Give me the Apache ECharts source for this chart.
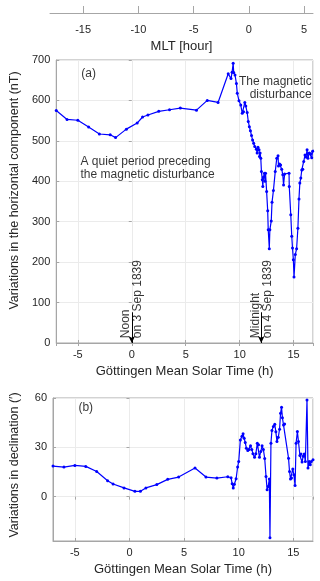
<!DOCTYPE html>
<html>
<head>
<meta charset="utf-8">
<script src="https://cdn.jsdelivr.net/npm/echarts@6/dist/echarts.min.js"></script>
<style>
  html, body { margin: 0; padding: 0; background: #fff; }
  #chart { width: 320px; height: 581px; }
</style>
</head>
<body>
<div id="chart"></div>
<script>
// Göttingen mean solar time (h), horizontal component variation (nT)
const horizontal = [
  [-7, 575], [-6, 553], [-5, 551], [-4, 534], [-3, 517], [-2, 515], [-1.5, 508], [-0.5, 529],
  [0.5, 544], [1, 559], [1.5, 564], [2.5, 573], [3.5, 577], [4.5, 581], [6, 576], [7, 600],
  [8, 595], [8.94, 666], [9.2, 654], [9.3, 670], [9.4, 692], [9.45, 669], [9.57, 663], [9.7, 642],
  [9.78, 618], [9.94, 599], [10.1, 589], [10.24, 568], [10.36, 572], [10.48, 595], [10.57, 586],
  [10.7, 570], [10.8, 548], [10.9, 535], [11.0, 525], [11.1, 513], [11.2, 502], [11.3, 494],
  [11.4, 486], [11.55, 479], [11.62, 470], [11.7, 484], [11.8, 478], [11.84, 461], [11.9, 470],
  [11.96, 457], [12.02, 424], [12.1, 404], [12.15, 387], [12.2, 410], [12.3, 420], [12.35, 400],
  [12.4, 420], [12.5, 375], [12.6, 327], [12.65, 280], [12.75, 233], [12.8, 280], [12.93, 302],
  [13.0, 348], [13.13, 377], [13.3, 424], [13.44, 457], [13.56, 463], [13.6, 438], [13.7, 443],
  [13.8, 440], [13.9, 430], [14.0, 416], [14.07, 391], [14.17, 418], [14.58, 420], [14.6, 387],
  [14.74, 317], [14.83, 264], [14.9, 235], [14.98, 206], [15.04, 163], [15.16, 219], [15.28, 233],
  [15.4, 284], [15.5, 356], [15.58, 396], [15.67, 408], [15.76, 428], [15.85, 430], [15.94, 449],
  [16.06, 465], [16.15, 460], [16.25, 478], [16.33, 457], [16.45, 470], [16.6, 468], [16.68, 458],
  [16.76, 474], [16.85, 478]
];

// Göttingen mean solar time (h), declination variation (')
const declination = [
  [-7, 18.6], [-6, 18.0], [-5, 19.0], [-4, 18.4], [-3, 15.3], [-2, 9.7], [-1.5, 7.7], [-0.5, 5.3],
  [0.5, 3.2], [1, 3.2], [1.5, 5.3], [2.5, 7.3], [3.5, 10.5], [4.5, 11.9], [6, 17.4], [7, 11.9],
  [8, 11.3], [9, 12.1], [9.3, 11.5], [9.4, 7.9], [9.5, 5.3], [9.6, 7.5], [9.76, 10.9], [9.9, 18],
  [10.0, 21.4], [10.15, 34.5], [10.3, 36.7], [10.4, 38.2], [10.5, 35.5], [10.6, 32.9], [10.7, 29.5],
  [10.83, 28.1], [10.95, 28.6], [11.08, 30.9], [11.2, 28.6], [11.3, 26.1], [11.45, 24],
  [11.57, 26.1], [11.7, 32.5], [11.82, 31.5], [11.9, 24], [12.02, 27.5], [12.14, 30.9],
  [12.26, 28.6], [12.38, 23.2], [12.5, 12.3], [12.6, 4.2], [12.7, 6.2], [12.8, 10.7], [12.86, -25],
  [12.95, 32.5], [13.04, 40.2], [13.17, 42.6], [13.3, 44], [13.4, 39.4], [13.5, 33.5],
  [13.62, 36.1], [13.74, 41], [13.83, 50.7], [13.92, 54.4], [14.0, 48], [14.1, 43.6], [14.2, 44.2],
  [14.56, 23.4], [14.65, 15.3], [14.74, 10.7], [14.83, 11.3], [14.95, 16.8], [15.05, 13.3],
  [15.16, 6.7], [15.25, 32.5], [15.37, 39.6], [15.47, 33.5], [15.6, 25], [15.7, 26], [15.8, 21],
  [15.9, 24.6], [16.0, 26], [16.1, 21.4], [16.25, 58.8], [16.34, 17.4], [16.45, 21.4],
  [16.55, 19.4], [16.65, 21.4], [16.8, 22.4]
];

// text notes placed in data coordinates of panel (a) and (b)
const notesA = [
  { value: [-4, 665], text: '(a)', align: 'center' },
  { value: [-4.75, 433], text: 'A quiet period preceding\nthe magnetic disturbance', align: 'left' },
  { value: [16.68, 631], text: 'The magnetic\ndisturbance', align: 'right' }
];
const notesB = [
  { value: [-4, 53.9], text: '(b)', align: 'center' }
];
// dates marked with arrows: time (h), label
const dateMarks = [
  { time: 0, text: 'Noon\non 3 Sep 1839' },
  { time: 12, text: 'Midnight\non 4 Sep 1839' }
];

const font = 'Liberation Sans, Arial, Helvetica, sans-serif';
const axisGray = '#a6a6a6';
const gridGray = '#ebebeb';
const textGray = '#262626';
const blue = '#0000ff';

const chart = echarts.init(document.getElementById('chart'));

function timeAxis(gridIndex, name) {
  return {
    type: 'value', gridIndex: gridIndex, min: -7, max: 16.8, splitNumber: 5,
    name: name, nameLocation: 'middle', nameGap: 22,
    nameTextStyle: { fontSize: 13, color: textGray, fontFamily: font },
    axisLine: { onZero: false, lineStyle: { color: axisGray } },
    axisTick: { inside: true, length: 3, lineStyle: { color: axisGray } },
    axisLabel: { showMinLabel: false, showMaxLabel: false, margin: 6, fontSize: 11, color: textGray, fontFamily: font },
    splitLine: { show: true, lineStyle: { color: gridGray } }
  };
}
function mirrorX(gridIndex) {
  return {
    type: 'value', gridIndex: gridIndex, min: -7, max: 16.8, splitNumber: 5, position: 'top',
    axisLine: { show: false }, axisLabel: { show: false }, splitLine: { show: false },
    axisTick: { inside: true, length: 3, lineStyle: { color: axisGray } }
  };
}
function valueAxis(gridIndex, min, max, interval, name, shift) {
  return {
    type: 'value', gridIndex: gridIndex, min: min, max: max, interval: interval, splitNumber: 3,
    name: name, nameLocation: 'middle', nameGap: 32,
    nameTextStyle: { fontSize: 12.5, color: textGray, fontFamily: font, padding: [0, 0, 0, shift] },
    axisLine: { show: true, onZero: false, lineStyle: { color: axisGray } },
    axisTick: { show: true, inside: true, length: 3, lineStyle: { color: axisGray } },
    axisLabel: { showMinLabel: interval != null, margin: 6, fontSize: 11, color: textGray, fontFamily: font },
    splitLine: { show: true, lineStyle: { color: gridGray } }
  };
}
function mirrorY(gridIndex, min, max, interval) {
  return {
    type: 'value', gridIndex: gridIndex, min: min, max: max, interval: interval, splitNumber: 3,
    position: 'right',
    axisLine: { show: false }, axisLabel: { show: false }, splitLine: { show: false },
    axisTick: { show: true, inside: true, length: 3, lineStyle: { color: axisGray } }
  };
}
function noteSeries(xIdx, yIdx, notes) {
  return {
    type: 'scatter', xAxisIndex: xIdx, yAxisIndex: yIdx, symbolSize: 0, silent: true,
    data: notes.map(n => ({
      value: n.value,
      label: {
        show: true, position: 'inside', formatter: n.text, align: n.align, verticalAlign: 'middle',
        fontSize: 12, lineHeight: 13, color: '#000', fontFamily: font
      }
    }))
  };
}

const option = {
  animation: false,
  backgroundColor: '#fff',
  grid: [
    { left: 50, right: 7, top: 60, height: 283, show: true, borderColor: axisGray, borderWidth: 1 },
    { left: 50, right: 7, top: 398, height: 143, show: true, borderColor: axisGray, borderWidth: 1 },
    { left: 50, right: 7, top: 12, height: 1 }
  ],
  xAxis: [
    timeAxis(0, 'Göttingen Mean Solar Time (h)'),
    timeAxis(1, 'Göttingen Mean Solar Time (h)'),
    {
      type: 'value', gridIndex: 2, min: -18, max: 5.8, splitNumber: 5,
      name: 'MLT [hour]', nameLocation: 'middle', nameGap: 27,
      nameTextStyle: { fontSize: 13, color: textGray, fontFamily: font },
      axisLine: { onZero: false, lineStyle: { color: axisGray } },
      axisTick: { inside: true, length: 7, lineStyle: { color: axisGray } },
      axisLabel: { showMinLabel: false, showMaxLabel: false, margin: 11, fontSize: 11, color: textGray, fontFamily: font },
      splitLine: { show: false }
    },
    mirrorX(0),
    mirrorX(1)
  ],
  yAxis: [
    valueAxis(0, 0, 700, 100, 'Variations in the horizontal component (nT)', 22),
    valueAxis(1, -27, 60, null, 'Variations in declination (′)', 9),
    { type: 'value', gridIndex: 2, show: false, min: 0, max: 1 },
    mirrorY(0, 0, 700, 100),
    mirrorY(1, -27, 60, null)
  ],
  series: [
    {
      type: 'line', xAxisIndex: 0, yAxisIndex: 0, data: horizontal,
      symbol: 'circle', symbolSize: 3, showSymbol: true,
      lineStyle: { color: blue, width: 1.2 }, itemStyle: { color: blue },
      markLine: {
        silent: true, symbol: ['none', 'arrow'], symbolSize: [5, 7],
        lineStyle: { color: '#000', width: 1, type: 'solid' }, label: { show: false },
        data: dateMarks.map(d => [{ coord: [d.time, 76] }, { coord: [d.time, 0] }])
      }
    },
    {
      type: 'scatter', xAxisIndex: 0, yAxisIndex: 0, symbolSize: 0, silent: true,
      data: dateMarks.map(d => ({
        value: [d.time, 12],
        label: {
          show: true, position: 'inside', formatter: d.text, rotate: 90,
          align: 'left', verticalAlign: 'middle', fontSize: 12, lineHeight: 12,
          color: '#000', fontFamily: font
        }
      }))
    },
    noteSeries(0, 0, notesA),
    {
      type: 'line', xAxisIndex: 1, yAxisIndex: 1, data: declination,
      symbol: 'circle', symbolSize: 3, showSymbol: true,
      lineStyle: { color: blue, width: 1.2 }, itemStyle: { color: blue }
    },
    noteSeries(1, 1, notesB)
  ]
};

chart.setOption(option);
window.addEventListener('resize', () => chart.resize());
</script>
</body>
</html>
